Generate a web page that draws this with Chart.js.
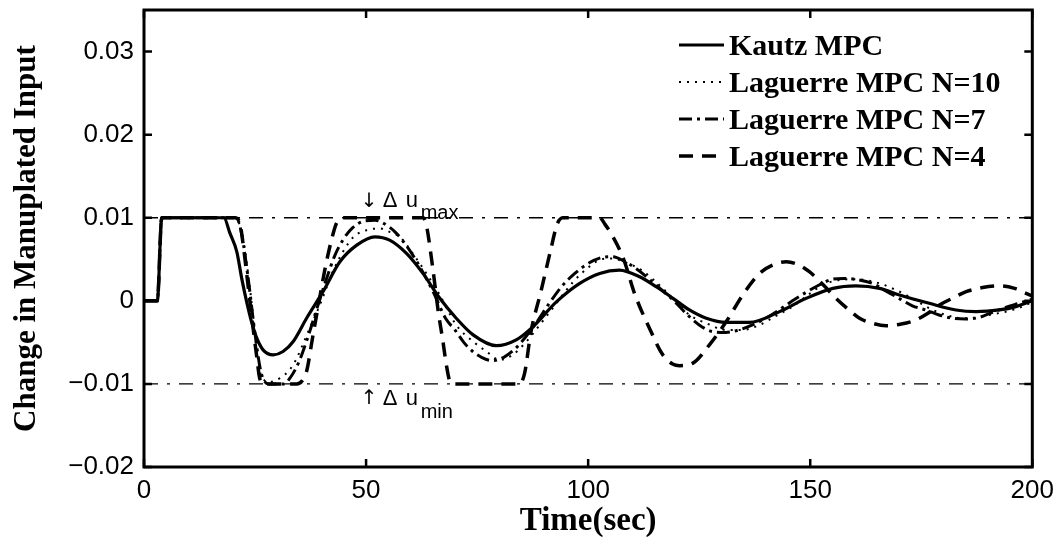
<!DOCTYPE html>
<html>
<head>
<meta charset="utf-8">
<title>Change in Manuplated Input</title>
<script src="https://cdn.jsdelivr.net/npm/chart.js@4.4.1/dist/chart.umd.min.js"></script>
<style>
  html, body { margin: 0; padding: 0; background: #fff; }
  #wrap { width: 1062px; height: 544px; }
</style>
</head>
<body>
<div id="wrap"><canvas id="mpcChart" width="1062" height="544"></canvas></div>
<script>
// axis ticks
const timeTicks = [0, 50, 100, 150, 200];
const inputTicks = [-0.02, -0.01, 0, 0.01, 0.02, 0.03];

// constraint lines
const limitTime = [0, 200];
const duMax = [0.01, 0.01];
const duMin = [-0.01, -0.01];

// Kautz MPC
const kautzTime = [0, 3, 4, 18, 19.3, 20.9, 22, 23.1, 24.2, 25.4, 26.8, 29.1, 31.3, 33.6, 36.6, 40.3, 44.1, 47.9, 52, 55.3,
    59.1, 62.8, 66.6, 70.3, 74.1, 79.3, 83.8, 87.6, 92.9, 98.1, 102.6, 107, 111.6, 115.3, 119.1, 122.8, 126.6, 131.1, 136.3, 143.1,
    149.1, 155.1, 160.3, 165.6, 170.1, 176.8, 182.8, 187.3, 192.6, 196.3, 200];
const kautzInput = [0, 0, 0.01, 0.01, 0.0082, 0.0059, 0.0027, -0.0001, -0.0025, -0.0045, -0.0059, -0.0065, -0.0061, -0.0049, -0.0021, 0.0011, 0.0047, 0.0067, 0.0077, 0.0073,
    0.0057, 0.0033, 0.0003, -0.0021, -0.0041, -0.0054, -0.0047, -0.0031, -0.0001, 0.0021, 0.0033, 0.0037, 0.0029, 0.0017, 0.0003, -0.0011, -0.0021, -0.0026, -0.0026, -0.0013,
    0.0003, 0.0015, 0.0018, 0.0015, 0.0007, -0.0003, -0.0011, -0.0013, -0.0011, -0.0007, 0];

// Laguerre MPC N=10
const lag10Time = [0, 3, 4, 20.5, 21.5, 22.5, 23.5, 24.5, 25.3, 26.1, 27, 28, 30.6, 32.8, 34.4, 35.8, 37.3, 39.6, 42.5, 44.8,
    47.2, 50.1, 53.1, 55.3, 57.6, 60.5, 64.3, 66.6, 70.3, 74.1, 77.1, 80, 83, 86.1, 89.1, 92, 96.5, 100, 103, 105.5,
    108, 112, 116.8, 119.8, 122.8, 126.6, 131, 134.8, 138.6, 142, 146, 149.5, 152.8, 156.5, 160.3, 165.6, 169.3, 171.6, 174.2, 176.8,
    180.5, 184.3, 187.5, 190.3, 195.5, 199.3, 200];
const lag10Input = [0, 0, 0.01, 0.01, 0.0092, 0.0068, 0.003, -0.0015, -0.0055, -0.0085, -0.0095, -0.0098, -0.0093, -0.0083, -0.0069, -0.0052, -0.0033, -0.0005, 0.0035, 0.0059,
    0.0077, 0.0085, 0.0087, 0.0083, 0.0077, 0.0057, 0.0027, 0.0007, -0.0029, -0.0049, -0.0061, -0.0071, -0.0065, -0.0049, -0.0029, -0.0009, 0.0022, 0.004, 0.005, 0.0051,
    0.0047, 0.0037, 0.0015, -0.0001, -0.0017, -0.0027, -0.0035, -0.0035, -0.0029, -0.0019, -0.0007, 0.0007, 0.0019, 0.0025, 0.0026, 0.0021, 0.0013, 0.0007, -0.0001, -0.0009,
    -0.0017, -0.0021, -0.002, -0.0017, -0.0011, -0.0003, 0];

// Laguerre MPC N=7
const lag7Time = [0, 3, 4, 20.8, 22, 23.5, 25, 26.3, 27.3, 28, 31.5, 33, 35, 37, 39, 41, 43, 45, 47, 49.5,
    52, 54, 56.5, 59, 62, 65, 68, 70, 72, 74, 76, 78.5, 81, 83.5, 86, 88.5, 91, 94, 97, 100,
    103, 105.5, 108, 111, 114, 117, 119.5, 122, 125, 128, 131, 134, 137, 140, 143, 146, 149, 152, 155, 157.5,
    160, 164, 167, 170, 173, 176, 179, 182, 185, 188, 191, 194, 197, 200];
const lag7Input = [0, 0, 0.01, 0.01, 0.008, 0.0025, -0.004, -0.0085, -0.0098, -0.01, -0.01, -0.0092, -0.0072, -0.0042, -0.0008, 0.0025, 0.0055, 0.0075, 0.0088, 0.0096,
    0.0097, 0.0093, 0.0083, 0.0067, 0.0042, 0.0012, -0.0022, -0.0035, -0.005, -0.0061, -0.0068, -0.0072, -0.0068, -0.0058, -0.0043, -0.0025, -0.0005, 0.0017, 0.0033, 0.0045,
    0.0052, 0.0053, 0.0048, 0.0038, 0.0025, 0.0011, -0.0001, -0.0015, -0.0029, -0.0037, -0.0038, -0.0035, -0.0029, -0.0021, -0.0011, 0, 0.001, 0.0019, 0.0026, 0.0027,
    0.0026, 0.0021, 0.0012, 0.0003, -0.0006, -0.0011, -0.0017, -0.0021, -0.0022, -0.002, -0.0014, -0.0008, -0.0003, 0.0002];

// Laguerre MPC N=4
const lag4Time = [0, 3, 4, 20.5, 21.6, 22.3, 23.5, 24.5, 25.4, 26, 27, 34.4, 35.5, 36.6, 38, 39.2, 40.7, 42.2, 43.4, 44.8,
    62.8, 63.5, 65, 66.3, 67.2, 68.1, 68.8, 69.6, 84.5, 85.7, 87.1, 89.4, 91.6, 93, 94.3, 102.6, 103.8, 105.6, 108, 110.5,
    113.8, 116.8, 119, 120.6, 123.6, 127.3, 131.1, 134.8, 138.6, 141.5, 144.6, 147.5, 149.8, 152.8, 155.8, 158.5, 161.1, 164, 167.1, 170.5,
    173.8, 176.5, 179.1, 182, 185.1, 188.8, 192.6, 196, 198.6, 200];
const lag4Input = [0, 0, 0.01, 0.01, 0.0093, 0.0069, 0.0015, -0.003, -0.0068, -0.0092, -0.01, -0.01, -0.0097, -0.0085, -0.0043, -0.0007, 0.0037, 0.0073, 0.0094, 0.01,
    0.01, 0.0093, 0.004, -0.0015, -0.0045, -0.0078, -0.0096, -0.01, -0.01, -0.0087, -0.0038, 0.0012, 0.0062, 0.0092, 0.01, 0.01, 0.0092, 0.0077, 0.005, 0.0008,
    -0.0033, -0.0065, -0.0076, -0.0078, -0.0075, -0.0053, -0.0025, 0.0007, 0.0033, 0.0043, 0.0047, 0.0043, 0.0035, 0.002, 0.0003, -0.001, -0.0021, -0.0027, -0.003, -0.0028,
    -0.0023, -0.0015, -0.0005, 0.0003, 0.0011, 0.0016, 0.0018, 0.0015, 0.0009, 0.0006];

const serifFamily = '"Liberation Serif", "Times New Roman", serif';
const sansFont = '"Liberation Sans", Arial, Helvetica, sans-serif';

function pairs(t, v) {
    return t.map(function (x, i) { return { x: x, y: v[i] }; });
}

function fmtInput(v) {
    if (Math.abs(v) < 1e-9) return '0';
    const s = Math.abs(v).toFixed(2);
    return v < 0 ? '\u2212' + s : s;
}

// box, inward tick marks, legend and the du labels (MATLAB look)
const matlabPlugin = {
    id: 'matlabLook',
    afterDatasetsDraw: function (chart) {
        const ctx = chart.ctx;
        const a = chart.chartArea;
        const xs = chart.scales.x;
        const ys = chart.scales.y;
        const tick = 8;

        ctx.save();
        ctx.strokeStyle = '#000';
        ctx.setLineDash([]);

        // tick marks pointing inside on all four sides
        ctx.lineWidth = 2.5;
        ctx.beginPath();
        timeTicks.forEach(function (t) {
            const px = xs.getPixelForValue(t);
            ctx.moveTo(px, a.bottom); ctx.lineTo(px, a.bottom - tick);
            ctx.moveTo(px, a.top); ctx.lineTo(px, a.top + tick);
        });
        inputTicks.forEach(function (v) {
            const py = ys.getPixelForValue(v);
            ctx.moveTo(a.left, py); ctx.lineTo(a.left + tick, py);
            ctx.moveTo(a.right, py); ctx.lineTo(a.right - tick, py);
        });
        ctx.stroke();

        // frame
        ctx.lineWidth = 3;
        ctx.strokeRect(a.left, a.top, a.right - a.left, a.bottom - a.top);

        // legend, top right, no box
        ctx.font = 'bold 30px ' + serifFamily;
        ctx.fillStyle = '#000';
        ctx.textBaseline = 'alphabetic';
        ctx.textAlign = 'left';
        for (let i = 0; i < 4; i++) {
            const ds = chart.data.datasets[i];
            const ly = 45 + i * 37;
            ctx.lineWidth = ds.borderWidth;
            ctx.setLineDash(ds.borderDash || []);
            ctx.beginPath();
            ctx.moveTo(679, ly);
            ctx.lineTo(724, ly);
            ctx.stroke();
            ctx.setLineDash([]);
            ctx.fillText(ds.label, 729, ly + 10);
        }

        // constraint labels
        const ax = xs.getPixelForValue(49);
        const yTop = ys.getPixelForValue(0.01);
        const yBot = ys.getPixelForValue(-0.01);
        ctx.font = '20px "DejaVu Sans", sans-serif';
        ctx.fillText('\u2193', ax - 1, yTop - 11);
        ctx.fillText('\u2191', ax - 1, yBot + 20);
        ctx.font = '22px ' + sansFont;
        ctx.fillText('\u0394', ax + 21, yTop - 11);
        ctx.fillText('u', ax + 44, yTop - 11);
        ctx.fillText('\u0394', ax + 21, yBot + 21);
        ctx.fillText('u', ax + 44, yBot + 21);
        ctx.font = '20px ' + sansFont;
        ctx.fillText('max', ax + 59, yTop + 1);
        ctx.fillText('min', ax + 59, yBot + 34);

        ctx.restore();
    }
};

const ctx = document.getElementById('mpcChart').getContext('2d');
new Chart(ctx, {
    type: 'line',
    data: {
        datasets: [
            { label: 'Kautz MPC', data: pairs(kautzTime, kautzInput), borderColor: '#000', borderWidth: 3.2 },
            { label: 'Laguerre MPC N=10', data: pairs(lag10Time, lag10Input), borderColor: '#000', borderWidth: 2, borderDash: [2, 6] },
            { label: 'Laguerre MPC N=7', data: pairs(lag7Time, lag7Input), borderColor: '#000', borderWidth: 3, borderDash: [13, 5, 3, 5] },
            { label: 'Laguerre MPC N=4', data: pairs(lag4Time, lag4Input), borderColor: '#000', borderWidth: 3.5, borderDash: [14, 9] },
            { label: 'du max', data: pairs(limitTime, duMax), borderColor: '#000', borderWidth: 1.3, borderDash: [14, 9, 3, 9], cubicInterpolationMode: 'default' },
            { label: 'du min', data: pairs(limitTime, duMin), borderColor: '#000', borderWidth: 1.3, borderDash: [14, 9, 3, 9], cubicInterpolationMode: 'default' }
        ]
    },
    options: {
        responsive: false,
        animation: false,
        devicePixelRatio: 1,
        layout: { padding: { left: 0, right: 29, top: 10, bottom: 0 } },
        elements: {
            point: { radius: 0, hoverRadius: 0 },
            line: { fill: false, cubicInterpolationMode: 'monotone', borderCapStyle: 'butt' }
        },
        plugins: {
            legend: { display: false },
            tooltip: { enabled: false }
        },
        scales: {
            x: {
                type: 'linear',
                min: 0,
                max: 200,
                afterBuildTicks: function (scale) { scale.ticks = timeTicks.map(function (v) { return { value: v }; }); },
                afterFit: function (scale) { scale.height = 77; },
                grid: { display: false, drawTicks: false },
                border: { display: false },
                ticks: { color: '#000', padding: 8, maxRotation: 0, font: { family: sansFont, size: 26 } },
                title: { display: true, text: 'Time(sec)', color: '#000', padding: { top: 0, bottom: 3 },
                    font: { family: serifFamily, size: 33, weight: 'bold' } }
            },
            y: {
                type: 'linear',
                min: -0.02,
                max: 0.035,
                afterBuildTicks: function (scale) { scale.ticks = inputTicks.map(function (v) { return { value: v }; }); },
                afterFit: function (scale) {
                    scale.width = 144;
                    scale.paddingTop = 0;
                    scale.paddingBottom = 0;
                },
                grid: { display: false, drawTicks: false },
                border: { display: false },
                ticks: { color: '#000', padding: 10, font: { family: sansFont, size: 26 }, callback: fmtInput },
                title: { display: true, text: 'Change in Manuplated Input', color: '#000', padding: { top: 8, bottom: 0 },
                    font: { family: serifFamily, size: 31, weight: 'bold' } }
            }
        }
    },
    plugins: [matlabPlugin]
});
</script>
</body>
</html>
